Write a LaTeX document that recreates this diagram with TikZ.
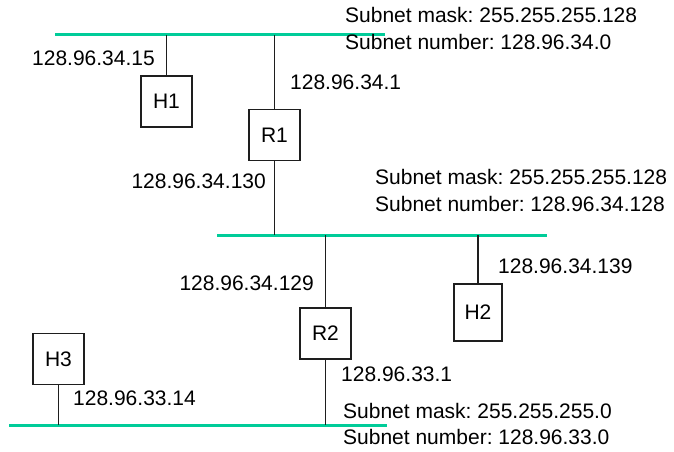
\documentclass[tikz,border=0pt]{standalone}
\usepackage{fontspec}
\setmainfont{Liberation Sans}
\frenchspacing
\definecolor{bus}{RGB}{0,204,153}
\definecolor{ink}{RGB}{30,30,30}
\begin{document}
\begin{tikzpicture}[x=1pt,y=-1pt,
  every node/.style={font=\fontsize{21}{25}\selectfont, text=black},
  busline/.style={draw=bus, line width=3pt},
  drop/.style={draw=ink, line width=1.5pt},
  dev/.style={draw=ink, line width=1.5pt, minimum width=51pt, minimum height=51pt, inner sep=0pt},
  lbl/.style={inner sep=0pt, text height=0.72em, text depth=0pt}]
\useasboundingbox (0,0) rectangle (674,452);
% buses
\coordinate (b1l) at (55,35);  \coordinate (b1r) at (385,35);
\coordinate (b2l) at (217,235); \coordinate (b2r) at (547,235);
\coordinate (b3l) at (9,425);  \coordinate (b3r) at (387,425);
\draw[busline] (b1l) -- (b1r);
\draw[busline] (b2l) -- (b2r);
\draw[busline] (b3l) -- (b3r);
% devices
\node[dev] (H1) at (166.5,101.5) {H1};
\node[dev] (R1) at (274.5,135) {R1};
\node[dev] (R2) at (325.5,333.5) {R2};
\node[dev, minimum width=48pt, minimum height=57pt] (H2) at (478,312.5) {H2};
\node[dev] (H3) at (58.5,359) {H3};
% drops
\draw[drop] (H1.north) -- (H1.north |- b1l);
\draw[drop] (R1.north) -- (R1.north |- b1l);
\draw[drop] (R1.south) -- (R1.south |- b2l);
\draw[drop] (R2.north) -- (R2.north |- b2l);
\draw[drop] (R2.south) -- (R2.south |- b3l);
\draw[drop] (H2.north) -- (H2.north |- b2l);
\draw[drop] (H3.south) -- (H3.south |- b3l);
% address labels
\node[lbl, anchor=east] (a1) at (155,62) {128.96.34.15};
\node[lbl, anchor=west] (a2) at (290,86) {128.96.34.1};
\node[lbl, anchor=east] (a3) at (266,185) {128.96.34.130};
\node[lbl, anchor=east] (a4) at (314,287) {128.96.34.129};
\node[lbl, anchor=west] (a5) at (498,270) {128.96.34.139};
\node[lbl, anchor=west] (a6) at (341,378) {128.96.33.1};
\node[lbl, anchor=west] (a7) at (73,402) {128.96.33.14};
% subnet info
\node[lbl, anchor=west] (m1) at (345,19) {Subnet mask: 255.255.255.128};
\node[lbl, anchor=west] (n1) at (345,46) {Subnet number: 128.96.34.0};
\node[lbl, anchor=west] (m2) at (375,181) {Subnet mask: 255.255.255.128};
\node[lbl, anchor=west] (n2) at (375,208) {Subnet number: 128.96.34.128};
\node[lbl, anchor=west] (m3) at (343,415) {Subnet mask: 255.255.255.0};
\node[lbl, anchor=west] (n3) at (343,441) {Subnet number: 128.96.33.0};
\end{tikzpicture}
\end{document}
